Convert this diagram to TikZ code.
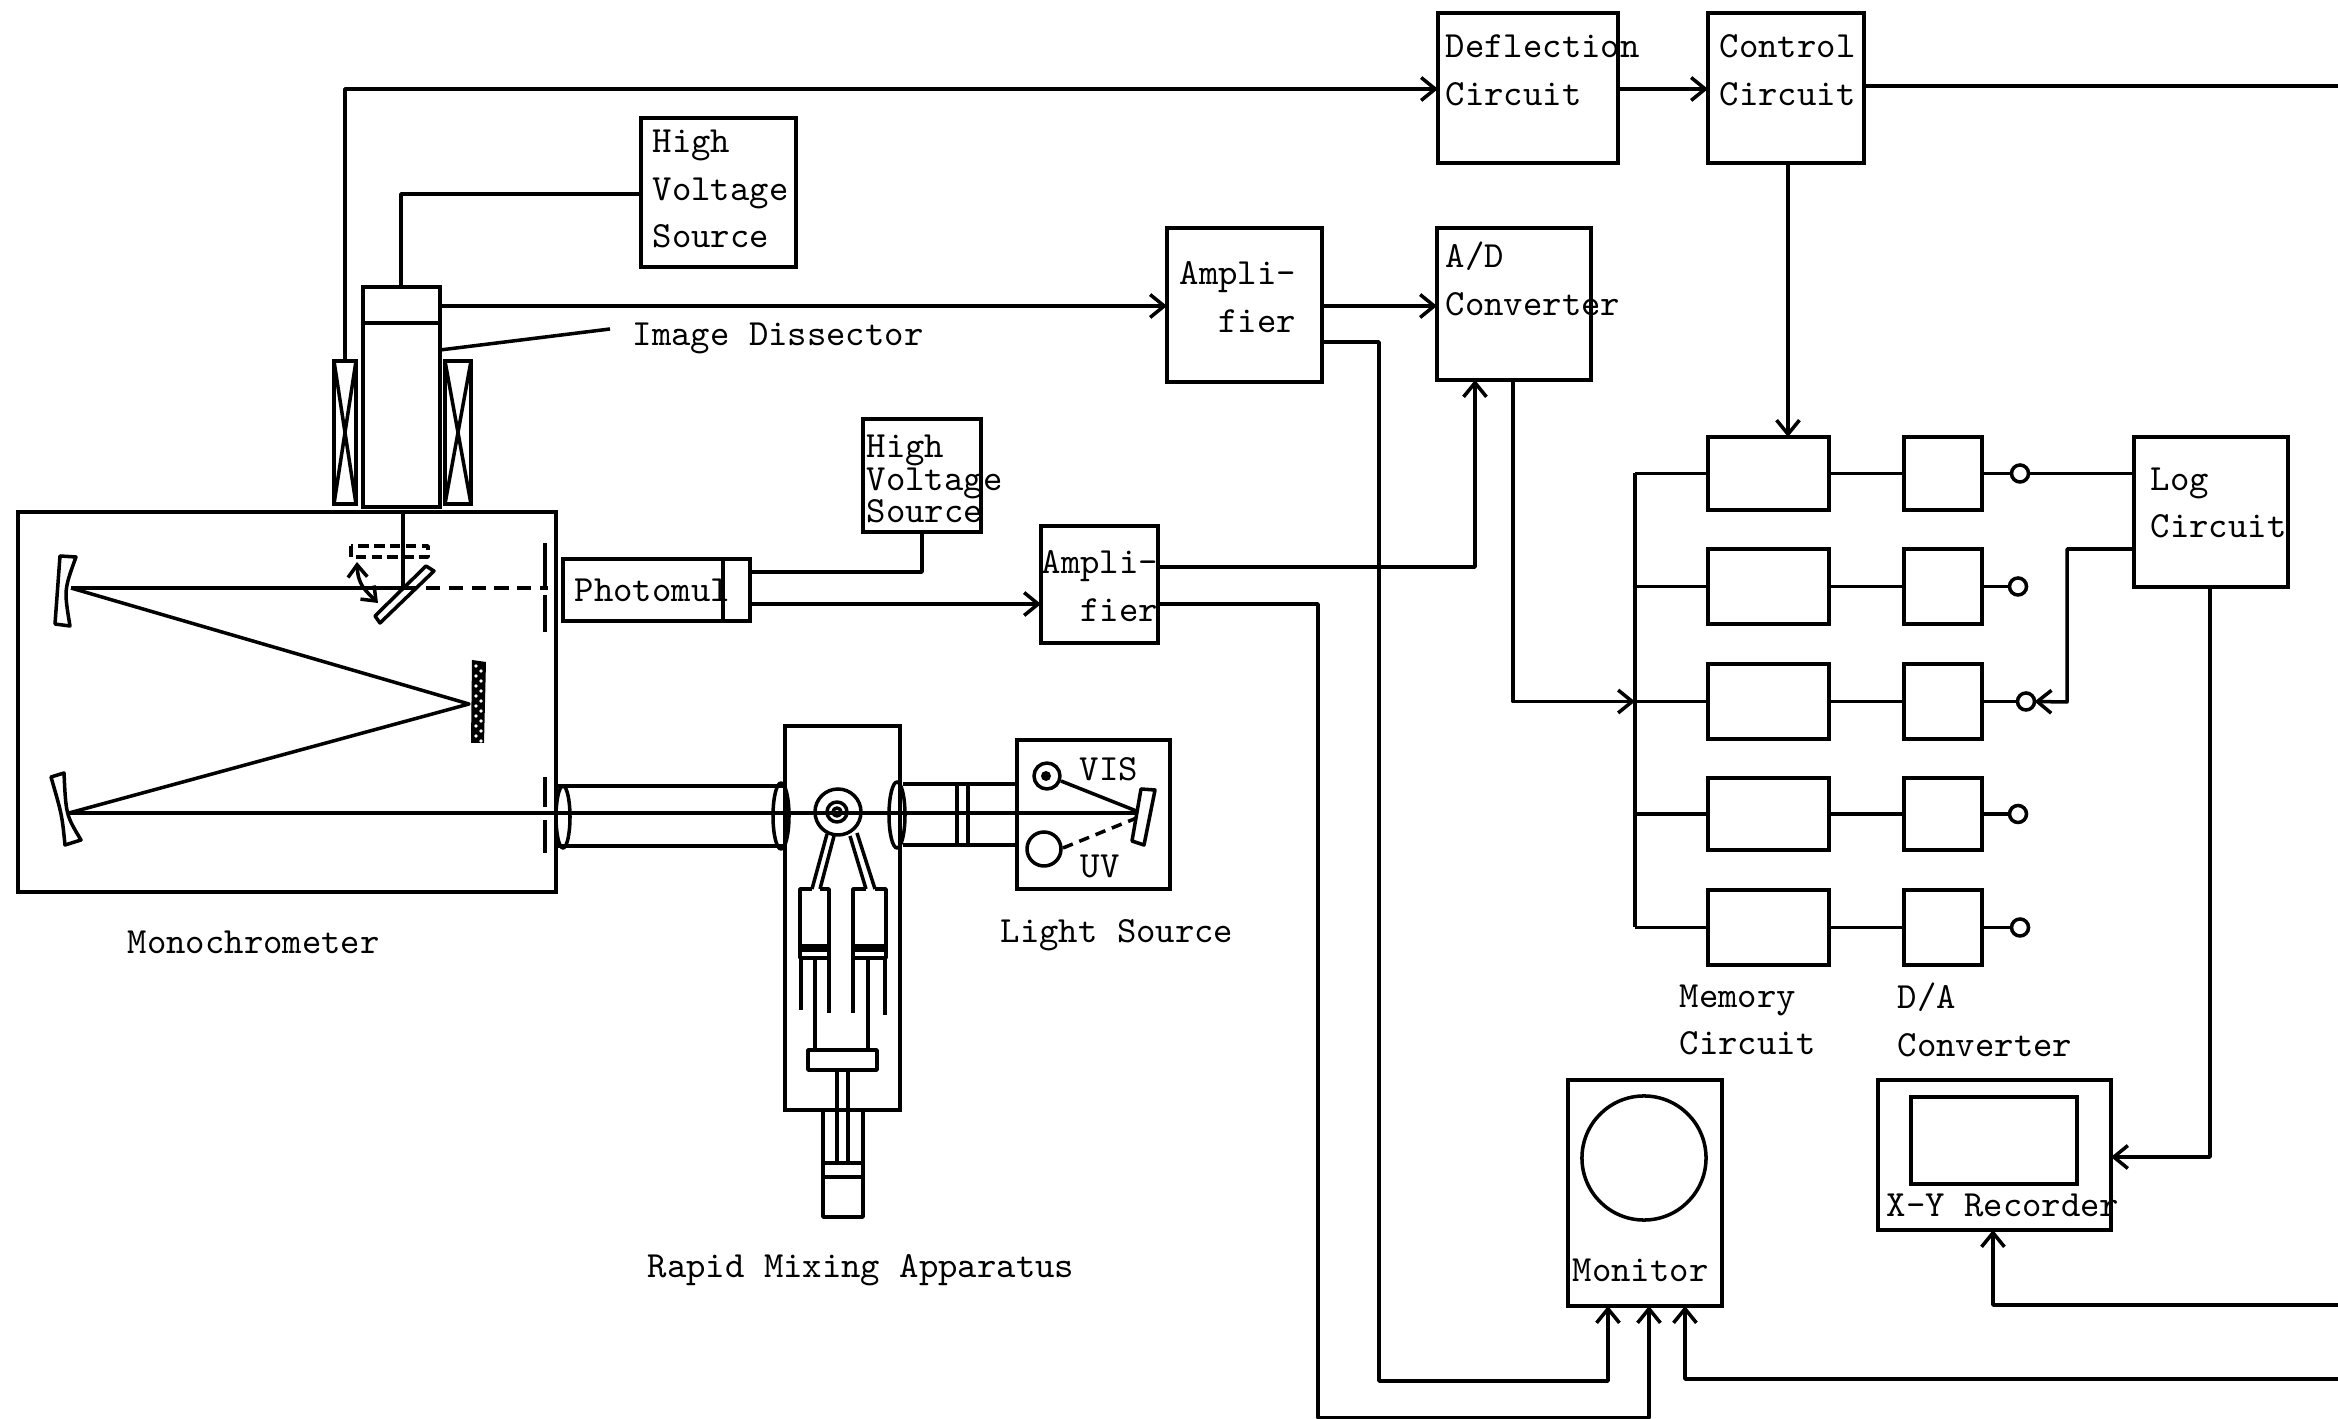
\documentclass[tikz,border=0pt]{standalone}
\usepackage{tikz}
\usetikzlibrary{arrows.meta,calc}

\tikzset{
  wire/.style={line width=1pt,line join=round},
  sigarrow/.style={wire,-{Straight Barb[length=4pt,width=6.5pt,line width=1pt]}},
  bothends/.style={wire,{Straight Barb[length=3.5pt,width=5.5pt,line width=1pt]}-{Straight Barb[length=3.5pt,width=5.5pt,line width=1pt]}},
  blockbox/.style={draw,line width=1pt,inner sep=0pt,outer sep=0pt},
  swcircle/.style={draw,circle,line width=1pt,inner sep=0pt,outer sep=0pt,minimum size=0.17cm},
  lbl/.style={anchor=west,inner sep=0pt,align=left,font=\ttfamily\fontsize{10.5}{13.6}\selectfont},
  lbltight/.style={lbl,font=\ttfamily\fontsize{10.5}{9.2}\selectfont},
  beamdash/.style={wire,dash pattern=on 4pt off 2.5pt}
}
\newcommand{\blockat}[5]{%
  \node[blockbox,minimum width=(#4-#2)*0.01cm,minimum height=(#5-#3)*0.01cm] (#1) at ({(#2+#4)/2},{(#3+#5)/2}) {};}

\begin{document}
\begin{tikzpicture}[x=0.01cm,y=-0.01cm]
  \useasboundingbox (0,0) rectangle (2338,1419);

  % circuit boxes
  \blockat{defl}{1438}{13}{1618}{163}
  \blockat{ctrl}{1708}{13}{1864}{163}
  \blockat{hvone}{641}{118}{796}{267}
  \blockat{ampone}{1167}{228}{1322}{382}
  \blockat{adc}{1437}{228}{1591}{380}
  \blockat{hvtwo}{863}{419}{981}{532}
  \blockat{amptwo}{1041}{526}{1158}{643}
  \blockat{pmt}{563}{559}{750}{621}
  \blockat{logc}{2134}{437}{2288}{587}
  \blockat{monitor}{1568}{1080}{1722}{1306}
  \blockat{recorder}{1878}{1080}{2111}{1230}
  \blockat{paper}{1911}{1097}{2077}{1184}
  \blockat{mono}{18}{512}{556}{892}
  \blockat{idis}{363}{287}{440}{507}
  \blockat{coilleft}{334}{361}{356}{504}
  \blockat{coilright}{445}{361}{471}{504}
  \blockat{rmix}{785}{726}{900}{1110}
  \blockat{lsrc}{1017}{740}{1170}{889}
  \node[draw,circle,line width=1pt,inner sep=0pt,minimum size=1.24cm] (screen) at (1644,1158) {};

  % memory and D/A rows
  \foreach \n/\ya/\yb/\xs in {1/437/510/2020,2/549/624/2018,3/664/739/2026,4/778/850/2018,5/890/965/2020}{
    \blockat{mem\n}{1708}{\ya}{1829}{\yb}
    \blockat{da\n}{1904}{\ya}{1982}{\yb}
    \node[swcircle] (sw\n) at (\xs,{(\ya+\yb)/2}) {};
    \coordinate (bus\n) at (1635,{(\ya+\yb)/2});
    \draw[wire] (bus\n) -- (mem\n) -- (da\n) -- (sw\n);
  }
  \draw[wire] (bus1) -- (bus5);

  % free ends at the page edge
  \coordinate (edgectrl) at (2338,86);
  \coordinate (edgerec) at (2338,1305);
  \coordinate (edgemon) at (2338,1379);

  % connectors
  \draw[sigarrow] (coilleft.north) |- (defl.west |- 0,89);
  \draw[sigarrow] (defl.east |- 0,89) -- (ctrl.west |- 0,89);
  \draw[wire] (ctrl.east |- edgectrl) -- (edgectrl);
  \draw[sigarrow] (ctrl.south -| 1788,0) -- (mem1.north -| 1788,0);
  \draw[wire] (idis.north -| 401,0) |- (hvone.west |- 0,194);
  \draw[sigarrow] (idis.east |- 0,306) -- (ampone.west |- 0,306);
  \draw[sigarrow] (ampone.east |- 0,306) -- (adc.west |- 0,306);
  \draw[wire] (pmt.east |- 0,572) -| (hvtwo.south);
  \draw[sigarrow] (pmt.east |- 0,604) -- (amptwo.west |- 0,604);
  \draw[sigarrow] (amptwo.east |- 0,567) -| (adc.south -| 1475,0);
  \draw[sigarrow] (adc.south -| 1513,0) |- (bus3);
  \draw[wire] (sw1) -- (logc.west |- sw1);
  \draw[sigarrow] (logc.west |- 0,549) -| (2067,702) -- (sw3.east);
  \draw[sigarrow] (logc.south -| 2210,0) |- (recorder.east |- 0,1157);
  \draw[sigarrow] (edgerec) -| (recorder.south -| 1993,0);
  \draw[sigarrow] (ampone.east |- 0,342) -| (1379,1381) -| (monitor.south -| 1608,0);
  \draw[sigarrow] (amptwo.east |- 0,604) -| (1318,1418) -| (monitor.south -| 1649,0);
  \draw[sigarrow] (edgemon) -| (monitor.south -| 1685,0);

  % dissector and coils
  \draw[wire] (363,323) -- (440,323);
  \draw[wire] (440,350) -- (610,329);
  \draw[wire] (coilleft.north west) -- (coilleft.south east) (coilleft.north east) -- (coilleft.south west);
  \draw[wire] (coilright.north west) -- (coilright.south east) (coilright.north east) -- (coilright.south west);
  \draw[wire] (723,559) -- (723,621);

  % monochrometer inside
  \draw[wire] (403,512) -- (403,588);
  \draw[wire,dash pattern=on 3pt off 1.5pt] (351,546) rectangle (428,557);
  \draw[wire,fill=white] (375,616) -- (380,623) -- (434,571) -- (426,566) -- cycle;
  \draw[bothends] (357,562) .. controls (358,585) and (365,590) .. (378,603);
  \draw[wire] (71,588) -- (403,588);
  \draw[beamdash] (403,588) -- (548,588);
  \draw[wire] (545,543) -- (545,586) (545,595) -- (545,632);
  \draw[wire] (60,556) -- (76,557) .. controls (64,590) .. (70,626) -- (55,624) -- cycle;
  \draw[wire] (71,588) -- (469,704) -- (69,813);
  \draw[wire] (51,777) -- (64,773) .. controls (66,815) .. (81,840) -- (65,845) .. controls (62,815) .. (51,777) -- cycle;
  \fill (472,660) -- (486,662) -- (484,743) -- (471,743) -- cycle;
  \foreach \yy in {666,676,686,696,706,716,726,736}{
    \fill[white] (476,\yy) circle[radius=1.8];
    \fill[white] (481,\yy+5) circle[radius=1.8];
  }
  \draw[wire] (545,777) -- (545,807) (545,820) -- (545,853);

  % optical axis
  \draw[wire] (69,813) -- (1139,813);
  \draw[wire] (556,786) -- (783,786) (556,846) -- (783,846);
  \draw[wire] (903,784) -- (1017,784) (903,845) -- (1017,845);
  \draw[wire] (957,786) -- (957,843) (968,786) -- (968,843);
  \draw[wire] (563,817) ellipse[x radius=7,y radius=31];
  \draw[wire] (781,816) ellipse[x radius=8,y radius=33];
  \draw[wire] (897,815) ellipse[x radius=8,y radius=33];

  % light source inside
  \draw[wire] (1047,776) circle[radius=13];
  \fill (1046,776) circle[radius=5];
  \draw[wire] (1044,849) circle[radius=17];
  \draw[wire] (1061,781) -- (1139,812);
  \draw[wire,dash pattern=on 3pt off 2pt] (1063,848) -- (1139,817);
  \draw[wire,fill=white] (1141,789) -- (1155,790) -- (1144,845) -- (1132,841) -- cycle;

  % rapid mixing inside
  \draw[wire] (838,812) circle[radius=23];
  \draw[wire] (837,812) circle[radius=10];
  \draw[wire] (837,812) circle[radius=4];
  \draw[wire] (827,834) -- (812,889) (834,836) -- (820,889);
  \draw[wire] (850,836) -- (866,889) (857,833) -- (875,889);
  \draw[wire] (812,889) -- (800,889) -- (800,948) (829,948) -- (829,889) -- (820,889);
  \draw[wire] (866,889) -- (853,889) -- (853,948) (886,948) -- (886,889) -- (875,889);
  \draw[wire] (800,948) rectangle (829,958);
  \draw[wire] (853,948) rectangle (886,958);
  \draw[line width=2pt] (800,948) -- (829,948) (853,948) -- (886,948);
  \draw[wire] (801,958) -- (801,1010) (829,958) -- (829,1013);
  \draw[wire] (853,958) -- (853,1013) (885,958) -- (885,1015);
  \draw[wire] (815,958) -- (815,1050) (868,958) -- (868,1050);
  \draw[wire] (808,1050) rectangle (877,1070);
  \draw[wire] (837,1070) -- (837,1163) (848,1070) -- (848,1163);
  \draw[wire] (823,1110) -- (823,1217) -- (863,1217) -- (863,1110);
  \draw[wire] (823,1163) -- (863,1163) (823,1177) -- (863,1177);

  % labels
  \node[lbl] (tdefl) at (1445,70) {Deflection\\Circuit};
  \node[lbl] (tctrl) at (1719,70) {Control\\Circuit};
  \node[lbl] (thvone) at (652,189) {High\\Voltage\\Source};
  \node[lbl] (tidis) at (632,338) {Image Dissector};
  \node[lbl] (tampone) at (1179,297) {Ampli-\\~~fier};
  \node[lbl] (tadc) at (1445,279) {A/D\\Converter};
  \node[lbltight] (thvtwo) at (866,479) {High\\Voltage\\Source};
  \node[lbl] (tpmt) at (574,590) {Photomul};
  \node[lbl] (tamptwo) at (1041,586) {Ampli-\\~~fier};
  \node[lbl] (tlog) at (2150,503) {Log\\Circuit};
  \node[lbl] (tvis) at (1079,769) {VIS};
  \node[lbl] (tuv) at (1080,866) {UV};
  \node[lbl] (tmono) at (127,942) {Monochrometer};
  \node[lbl] (tlsrc) at (1000,935) {Light Source};
  \node[lbl] (trmix) at (647,1270) {Rapid Mixing Apparatus};
  \node[lbl] (tmem) at (1679,1020) {Memory\\Circuit};
  \node[lbl] (tda) at (1897,1020) {D/A\\Converter};
  \node[lbl] (trec) at (1886,1205) {X-Y Recorder};
  \node[lbl] (tmon) at (1572,1270) {Monitor};
\end{tikzpicture}
\end{document}
